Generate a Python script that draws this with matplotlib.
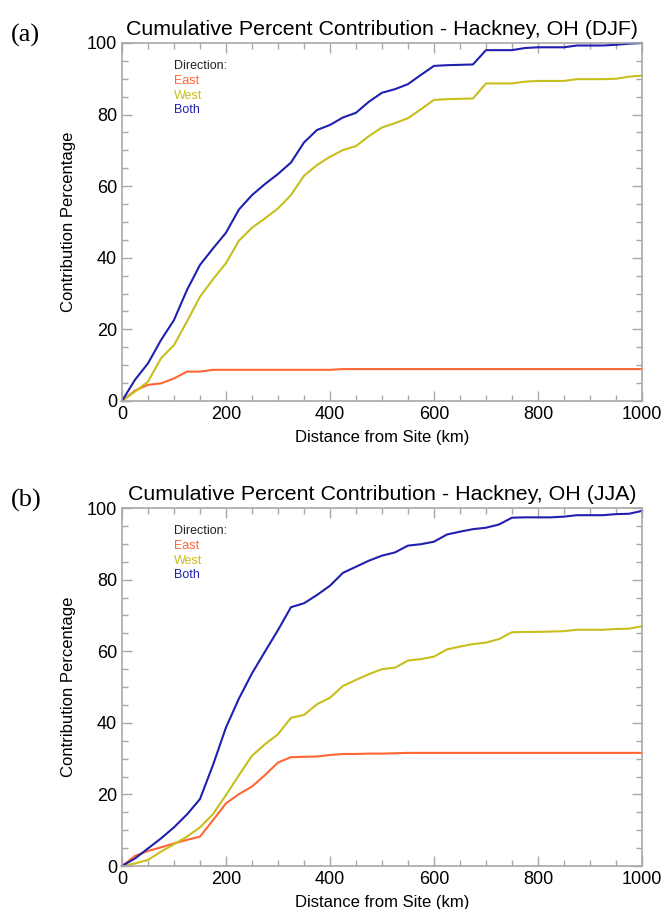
import matplotlib
matplotlib.use("Agg")
import matplotlib.pyplot as plt
from matplotlib.ticker import MultipleLocator
import numpy as np

plt.rcParams["font.family"] = ["Liberation Sans", "DejaVu Sans"]

# distance bins (km), 25 km steps
DIST = np.arange(0, 1001, 25)

# (a) DJF
DJF_EAST = [0, 2.9, 4.5, 4.9, 6.3, 8.2, 8.2, 8.7, 8.7, 8.7, 8.7, 8.7, 8.7, 8.7, 8.7, 8.7, 8.7,
            8.9, 8.9, 8.9, 8.9, 8.9, 8.9, 8.9, 8.9, 8.9, 8.9, 8.9, 8.9, 8.9, 8.9, 8.9, 8.9,
            8.9, 8.9, 8.9, 8.9, 8.9, 8.9, 8.9, 8.9]
DJF_WEST = [0, 2.6, 5.4, 11.9, 15.6, 22.2, 29.1, 34.0, 38.5, 44.8, 48.4, 51.0, 53.8, 57.5,
            62.9, 65.9, 68.2, 70.1, 71.2, 74.0, 76.4, 77.6, 79.0, 81.5, 84.1, 84.3, 84.4,
            84.5, 88.7, 88.7, 88.7, 89.2, 89.4, 89.4, 89.4, 89.9, 89.9, 89.9, 90.0, 90.6, 90.9]
DJF_BOTH = [0, 5.9, 10.5, 17.0, 22.6, 31.0, 38.0, 42.6, 47.0, 53.5, 57.5, 60.6, 63.4, 66.6,
            72.2, 75.7, 77.1, 79.2, 80.5, 83.6, 86.1, 87.1, 88.5, 91.1, 93.6, 93.8, 93.9,
            94.0, 98.0, 98.0, 98.0, 98.6, 98.8, 98.8, 98.8, 99.3, 99.3, 99.3, 99.5, 99.8, 100.0]

# (b) JJA
JJA_EAST = [0, 2.8, 4.2, 5.2, 6.3, 7.3, 8.2, 12.8, 17.5, 20.1, 22.2, 25.4, 28.9, 30.4,
            30.5, 30.6, 31.0, 31.3, 31.3, 31.4, 31.4, 31.5, 31.6, 31.6, 31.6, 31.6, 31.6,
            31.6, 31.6, 31.6, 31.6, 31.6, 31.6, 31.6, 31.6, 31.6, 31.6, 31.6, 31.6, 31.6, 31.6]
JJA_WEST = [0, 0.7, 1.7, 4.0, 6.1, 8.2, 10.8, 14.5, 19.8, 25.4, 30.8, 34.0, 36.8, 41.4,
            42.2, 45.2, 47.0, 50.3, 52.0, 53.6, 55.0, 55.4, 57.4, 57.8, 58.5, 60.5, 61.3,
            62.0, 62.4, 63.4, 65.3, 65.4, 65.4, 65.5, 65.6, 66.0, 66.0, 66.0, 66.2, 66.3, 67.0]
JJA_BOTH = [0, 2.1, 4.9, 7.7, 10.8, 14.4, 18.7, 28.2, 38.7, 46.8, 53.8, 59.9, 65.9, 72.3,
            73.4, 75.7, 78.3, 81.9, 83.6, 85.3, 86.7, 87.6, 89.5, 89.9, 90.6, 92.6, 93.4,
            94.1, 94.5, 95.4, 97.3, 97.4, 97.4, 97.4, 97.6, 98.0, 98.0, 98.0, 98.3, 98.4, 99.2]

LABELS = ["East", "West", "Both"]
COLORS = ["#FF6633", "#C8BE1E", "#2020B0"]
PANELS = [("(a)", "DJF", [DJF_EAST, DJF_WEST, DJF_BOTH]),
          ("(b)", "JJA", [JJA_EAST, JJA_WEST, JJA_BOTH])]

fig = plt.figure(figsize=(6.64, 9.09), dpi=100)
frame = "#A8A8A8"

for k, (tag, season, series) in enumerate(PANELS):
    bottom = 0.5589 if k == 0 else 0.0473
    ax = fig.add_axes([0.1837, bottom, 0.7831, 0.3938])
    for ys, c in zip(series, COLORS):
        ax.plot(DIST, ys, color=c, lw=1.5, clip_on=False)
    ax.set_xlim(0, 1000)
    ax.set_ylim(0, 100)
    ax.xaxis.set_major_locator(MultipleLocator(200))
    ax.xaxis.set_minor_locator(MultipleLocator(50))
    ax.yaxis.set_major_locator(MultipleLocator(20))
    ax.yaxis.set_minor_locator(MultipleLocator(5))
    ax.tick_params(which="both", direction="in", top=True, right=True, color=frame,
                   labelsize=13)
    ax.tick_params(which="major", length=7, width=1)
    ax.tick_params(which="minor", length=4, width=1)
    for s in ax.spines.values():
        s.set_color(frame)
        s.set_linewidth(1.2)
    ax.set_xlabel("Distance from Site (km)", fontsize=12, labelpad=5)
    ax.set_ylabel("Contribution Percentage", fontsize=12, labelpad=8)
    ax.set_title(f"Cumulative Percent Contribution - Hackney, OH ({season})",
                 fontsize=15.4, pad=6)

    # direction key in upper-left corner
    ax.text(0.10, 0.935, "Direction:", transform=ax.transAxes, fontsize=9,
            color="#222222", va="center")
    for i, (lab, c) in enumerate(zip(LABELS, COLORS)):
        ax.text(0.10, 0.935 - 0.041 * (i + 1), lab, transform=ax.transAxes,
                fontsize=9, color=c, va="center")

    fig.text(0.016, bottom + 0.3938 + 0.008, tag, fontsize=19,
             family=["Liberation Serif", "DejaVu Serif"], va="center")

fig.savefig("out.png", dpi=100)
